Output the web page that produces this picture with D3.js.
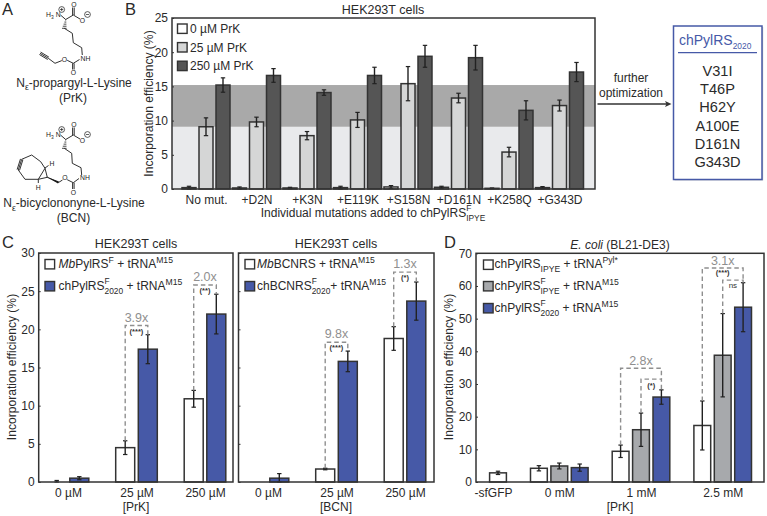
<!DOCTYPE html>
<html><head><meta charset="utf-8">
<script src="https://cdn.jsdelivr.net/npm/d3@7"></script>
<style>
html,body{margin:0;padding:0;background:#fff}
svg{display:block}
text{font-family:"Liberation Sans",Arial,sans-serif;fill:#2a2a2a;white-space:pre}
</style></head><body><svg id="c" width="767" height="516" viewBox="0 0 767 516"></svg>
<script>
// ---------- data ----------
const bCats = ["No mut.","+D2N","+K3N","+E119K","+S158N","+D161N","+K258Q","+G343D"];
const b0 = [0.2,0.15,0.15,0.2,0.3,0.25,0.1,0.2];
const b0Err = [0.2,0.15,0.1,0.2,0.2,0.15,0.05,0.15];
const b25 = [9.1,9.8,7.8,10.1,15.4,13.3,5.4,12.2];
const b25Err = [1.3,0.7,0.6,1.1,2.5,0.7,0.7,0.8];
const b250 = [15.2,16.6,14.1,16.6,19.4,19.2,11.5,17.1];
const b250Err = [1.05,1.0,0.4,1.2,1.6,1.8,1.4,1.4];
const bShade = [9.1,15.2];
const bYTicks = [0,5,10,15,20,25];

const cCats = ["0 µM","25 µM","250 µM"];
const cWhite = [0,4.5,10.9];
const cWhiteErr = [0.2,0.9,1.1];
const cBlue = [0.5,17.4,22];
const cBlueErr = [0.2,1.9,2.6];
const bcnWhite = [0,1.7,18.8];
const bcnWhiteErr = [0,0.1,1.55];
const bcnBlue = [0.5,15.8,23.7];
const bcnBlueErr = [0.6,1.35,2.5];
const cYTicks = [0,5,10,15,20,25,30];

const dCats = ["-sfGFP","0 mM","1 mM","2.5 mM"];
const dSf = 2.8, dSfErr = 0.5;
const dWhite = [null,4.2,9.4,17.3];
const dWhiteErr = [null,0.8,1.9,7.5];
const dGray = [null,4.9,16,38.8];
const dGrayErr = [null,0.9,5.1,12.75];
const dBlue = [null,4.4,26,53.5];
const dBlueErr = [null,1.1,2.2,7.5];
const dYTicks = [0,10,20,30,40,50,60,70];

const mutations = ["V31I","T46P","H62Y","A100E","D161N","G343D"];

// ---------- styles ----------
const INK="#333", BLUE="#4659a7", GRAYTXT="#8f8f8f", FS=12, TITLE=12.5;
const svg=d3.select("#c");

function rich(parent,x,y,parts,size=FS,anchor="start",fill=null){
  const g=parent.append("g");
  let cx=0;
  const put=(t,dy,s,it)=>{const e=g.append("text").attr("x",cx).attr("y",dy).attr("font-size",s).text(t);
    if(it)e.attr("font-style","italic"); if(fill)e.style("fill",fill); return e.node().getComputedTextLength();};
  parts.forEach(p=>{
    if(typeof p==="string"){cx+=put(p,0,size);}
    else if(p.i){cx+=put(p.i,0,size,true);}
    else if(p.sup&&p.sub){const a=put(p.sup,-size*.46,size*.7),b=put(p.sub,size*.36,size*.7);cx+=Math.max(a,b);}
    else if(p.sup){cx+=put(p.sup,-size*.42,size*.72);}
    else if(p.sub){cx+=put(p.sub,size*.3,size*(p.scale||.72));}
  });
  const ox=anchor==="middle"?x-cx/2:x;
  g.attr("transform",`translate(${ox},${y})`);
  return g;
}
function label(t,x,y,size=FS,anchor="middle",fill=null,weight=null){
  const e=svg.append("text").attr("x",x).attr("y",y).attr("font-size",size).attr("text-anchor",anchor).text(t);
  if(fill)e.style("fill",fill); if(weight)e.attr("font-weight",weight); return e;
}
function yLabel(x,cy){
  svg.append("text").attr("transform",`translate(${x},${cy}) rotate(-90)`).attr("text-anchor","middle")
    .attr("font-size",12.1).text("Incorporation efficiency (%)");
}
function panel(o){
  const y=d3.scaleLinear().domain(o.yDomain).range([o.bottom,o.top]);
  const x=d3.scaleBand().domain(o.cats).range(o.xRange);
  const inner=d3.scaleBand().domain(d3.range(o.series.length)).range([-o.step*o.series.length/2,o.step*o.series.length/2]);
  const g=svg.append("g");
  if(o.under)o.under(g,y);
  const center=c=>x(c)+x.bandwidth()/2;
  const barX=(c,i)=>center(c)+inner(i)+inner.bandwidth()/2;
  o.series.forEach((s,i)=>{
    const rows=o.cats.map((c,k)=>({c,v:s.values[k],e:s.errs[k]})).filter(d=>d.v!=null);
    g.selectAll(null).data(rows.filter(d=>d.v>0)).enter().append("rect")
      .attr("x",d=>barX(d.c,i)-o.w/2).attr("width",o.w)
      .attr("y",d=>y(d.v)).attr("height",d=>y(0)-y(d.v))
      .attr("fill",s.fill).attr("stroke",INK).attr("stroke-width",1.5);
  });
  if(o.extra)o.extra(g,x,y,barX,center);
  const eb=(px,v,e)=>{
    if(!e)return;
    const ln=(x1,y1,x2,y2,w)=>g.append("line").attr("x1",x1).attr("y1",y1).attr("x2",x2).attr("y2",y2).attr("stroke","#222").attr("stroke-width",w);
    ln(px,y(v+e),px,y(Math.max(0,v-e)),1.4);
    ln(px-2.2,y(v+e),px+2.2,y(v+e),1.2);
    ln(px-2.2,y(Math.max(0,v-e)),px+2.2,y(Math.max(0,v-e)),1.2);
  };
  o.series.forEach((s,i)=>o.cats.forEach((c,k)=>{if(s.values[k]!=null)eb(barX(c,i),s.values[k],s.errs[k]);}));
  if(o.extraErr)o.extraErr(eb,x,barX);
  // frame
  g.append("rect").attr("x",o.left).attr("y",o.top).attr("width",o.right-o.left).attr("height",o.bottom-o.top)
    .attr("fill","none").attr("stroke",INK).attr("stroke-width",1.5);
  // axes
  const ya=g.append("g").attr("transform",`translate(${o.left},0)`)
    .call(d3.axisLeft(y).tickValues(o.yTicks).tickSize(-2).tickPadding(4));
  ya.select(".domain").remove();
  ya.selectAll("line").attr("stroke",INK);
  ya.selectAll("text").attr("font-size",FS);
  if(o.noYLabels)ya.selectAll("text").remove();
  const xt=o.xTick?o.xTick(x):d3.scaleOrdinal(o.cats,o.cats.map(center));
  const xa=g.append("g").attr("transform",`translate(0,${o.bottom})`)
    .call(d3.axisBottom(xt).tickSize(0).tickPadding(6));
  xa.select(".domain").remove();
  xa.selectAll("text").attr("font-size",FS);
  return {x,y,barX,center};
}
function bracket(pts){
  svg.append("path").attr("d",d3.line()(pts)).attr("fill","none").attr("stroke",GRAYTXT)
    .attr("stroke-width",1.4).attr("stroke-dasharray","4.5 3");
}
function swatch(x,y,fill){
  svg.append("rect").attr("x",x).attr("y",y).attr("width",9.6).attr("height",9.4)
    .attr("fill",fill).attr("stroke",INK).attr("stroke-width",1.4);
}

// ---------- panel letters ----------
[["A",2,14.5],["B",125,14.5],["C",2,248],["D",444,248]].forEach(d=>label(d[0],d[1],d[2],16.5,"start"));

// ---------- panel B ----------
const pB=panel({left:172,right:595,top:18,bottom:189,yDomain:[0,25],cats:bCats,xRange:[180.75,584.75],
  step:17,w:14,yTicks:bYTicks,
  series:[{values:b0,errs:b0Err,fill:"#fff"},{values:b25,errs:b25Err,fill:"#d5d6d6"},{values:b250,errs:b250Err,fill:"#555"}],
  under:(g,y)=>{
    g.append("rect").attr("x",172).attr("width",423).attr("y",y(bShade[0])).attr("height",y(0)-y(bShade[0])).attr("fill","#e9eaec");
    g.append("rect").attr("x",172).attr("width",423).attr("y",y(bShade[1])).attr("height",y(bShade[0])-y(bShade[1])).attr("fill","#a9a9a9");
  }});
label("HEK293T cells",383,14,TITLE);
yLabel(152.5,103.5);
rich(svg,373,217,["Individual mutations added to chPylRS",{sup:"F",sub:"IPYE"}],FS,"middle");
[["0 µM PrK","#fff"],["25 µM PrK","#d5d6d6"],["250 µM PrK","#555"]].forEach((d,i)=>{
  swatch(177.5,24+i*18.6,d[1]); label(d[0],190,33+i*18.7,FS,"start");
});

// ---------- arrow and box ----------
label("further",631,82); label("optimization",631,97);
svg.append("line").attr("x1",597.5).attr("x2",668).attr("y1",104).attr("y2",104).attr("stroke",INK).attr("stroke-width",1.3);
svg.append("path").attr("d","M671.5,104L665,101L666.5,104L665,107Z").attr("fill",INK);
svg.append("rect").attr("x",674.5).attr("y",27).attr("width",88.7).attr("height",153.5).attr("fill","#c9c9c9");
svg.append("rect").attr("x",673.5).attr("y",26).attr("width",88.5).attr("height",153.5).attr("fill","#fff").attr("stroke",BLUE).attr("stroke-width",1.5);
rich(svg,679,45,["chPylRS",{sub:"2020",scale:.6}],14,"start",BLUE);
svg.append("line").attr("x1",678).attr("x2",757).attr("y1",52.7).attr("y2",52.7).attr("stroke",BLUE).attr("stroke-width",1.2);
svg.selectAll(null).data(mutations).enter().append("text").attr("x",717.5).attr("y",(d,i)=>76+i*18.2)
  .attr("text-anchor","middle").attr("font-size",14.6).text(d=>d);

// ---------- panel C ----------
const cOpt={top:253,bottom:482,yDomain:[0,30],cats:cCats,step:22.6,w:19,yTicks:cYTicks};
const pC=panel({...cOpt,left:38.7,right:233,xRange:[33.75,239.25],
  series:[{values:cWhite,errs:cWhiteErr,fill:"#fff"},{values:cBlue,errs:cBlueErr,fill:BLUE}]});
label("HEK293T cells",136,248,TITLE);
yLabel(16,367);
label("[PrK]",136,510.5);
swatch(45,259.5,"#fff"); swatch(45,281.5,BLUE);
rich(svg,58.5,268,[{i:"Mb"},"PylRS",{sup:"F"}," + tRNA",{sup:"M15"}]);
rich(svg,58.5,290,["chPylRS",{sup:"F",sub:"2020"}," + tRNA",{sup:"M15"}]);

const pC2=panel({...cOpt,left:238.5,right:434,xRange:[233.75,439.25],noYLabels:true,
  series:[{values:bcnWhite,errs:bcnWhiteErr,fill:"#fff"},{values:bcnBlue,errs:bcnBlueErr,fill:BLUE}]});
label("HEK293T cells",336,248,TITLE);
label("[BCN]",336,510.5);
swatch(245,259.5,"#fff"); swatch(245,281.5,BLUE);
rich(svg,257,268,[{i:"Mb"},"BCNRS + tRNA",{sup:"M15"}]);
rich(svg,257,290,["chBCNRS",{sup:"F",sub:"2020"},"+ tRNA",{sup:"M15"}]);

// fold-change annotations for C
function foldPair(p,cat,loTop,hiTop,level,txt,stars){
  const x1=p.barX(cat,0),x2=p.barX(cat,1),yl=p.y(level);
  bracket([[x1,p.y(loTop)],[x1,yl],[x2,yl],[x2,p.y(hiTop)]]);
  label(txt,(x1+x2)/2,yl-4,12.5,"middle",GRAYTXT);
  label(stars,(x1+x2)/2,yl+8,7.5,"middle","#333","bold");
}
foldPair(pC,"25 µM",cWhite[1]+cWhiteErr[1],cBlue[1]+cBlueErr[1],20.5,"3.9x","(***)");
foldPair(pC,"250 µM",cWhite[2]+cWhiteErr[2],cBlue[2]+cBlueErr[2],25.8,"2.0x","(**)");
foldPair(pC2,"25 µM",bcnWhite[1]+bcnWhiteErr[1],bcnBlue[1]+bcnBlueErr[1],18.3,"9.8x","(***)");
foldPair(pC2,"250 µM",bcnWhite[2]+bcnWhiteErr[2],bcnBlue[2]+bcnBlueErr[2],27.5,"1.3x","(*)");

// ---------- panel D ----------
const pD=panel({left:476,right:764,top:253.3,bottom:482,yDomain:[0,70],cats:dCats,xRange:[436.75,763.55],
  step:20.4,w:16.8,yTicks:dYTicks,
  series:[{values:dWhite,errs:dWhiteErr,fill:"#fff"},{values:dGray,errs:dGrayErr,fill:"#a7a9ac"},{values:dBlue,errs:dBlueErr,fill:BLUE}],
  extra:(g,x,y,barX)=>{
    g.append("rect").attr("x",barX(dCats[0],2)-8.4).attr("width",16.8).attr("y",y(dSf)).attr("height",y(0)-y(dSf))
      .attr("fill","#fff").attr("stroke",INK).attr("stroke-width",1.5);
  },
  extraErr:(eb,x,barX)=>eb(barX(dCats[0],2),dSf,dSfErr),
  xTick:x=>d3.scaleOrdinal(dCats,dCats.map((c,i)=>x(c)+x.bandwidth()/2-(i?0:-15.4)))
});
rich(svg,620,249,[{i:"E. coli"}," (BL21-DE3)"],TITLE-.5,"middle");
yLabel(452.7,367);
label("[PrK]",620,510.5);
swatch(483.5,260,"#fff"); swatch(483.5,281.5,"#a7a9ac"); swatch(483.5,303.5,BLUE);
rich(svg,494.5,268.3,["chPylRS",{sub:"IPYE"}," + tRNA",{sup:"Pyl*"}]);
rich(svg,494.5,290,["chPylRS",{sup:"F",sub:"IPYE"}," + tRNA",{sup:"M15"}]);
rich(svg,494.5,311.7,["chPylRS",{sup:"F",sub:"2020"}," + tRNA",{sup:"M15"}]);

function foldTriple(cat,k,outer,inner,txt,txtDy){
  const p=pD, x0=p.barX(cat,0),x1=p.barX(cat,1),x2=p.barX(cat,2);
  const yo=p.y(outer),yi=p.y(inner);
  bracket([[x0,p.y(dWhite[k]+dWhiteErr[k])],[x0,yo],[x2,yo],[x2,yi]]);
  bracket([[x1,p.y(dGray[k]+dGrayErr[k])],[x1,yi],[x2,yi],[x2,p.y(dBlue[k]+dBlueErr[k])]]);
  label(txt,x1,yo-txtDy,12.5,"middle",GRAYTXT);
  return {x1,x2,yo,yi};
}
const t1=foldTriple("1 mM",2,34.8,31.5,"2.8x",3.5);
label("(*)",(t1.x1+t1.x2)/2,t1.yi+9,7.5,"middle","#333","bold");
const t2=foldTriple("2.5 mM",3,65.5,61.8,"3.1x",3);
label("(***)",t2.x1,t2.yo+7,7.5,"middle","#333","bold");
label("ns",(t2.x1+t2.x2)/2,t2.yi+8,8,"middle","#333");

// ---------- panel A: structures ----------
function bonds(list,w=0.9){
  svg.append("path").attr("d",list.map(s=>d3.line()(s)).join("")).attr("fill","none").attr("stroke","#1a1a1a").attr("stroke-width",w);
}
function atom(t,x,y,s=6.8){label(t,x,y,s,"middle","#1a1a1a");}
function charge(x,y,neg){
  svg.append("circle").attr("cx",x).attr("cy",y).attr("r",2.9).attr("fill","#fff").attr("stroke","#1a1a1a").attr("stroke-width",.7);
  bonds([[[x-1.6,y],[x+1.6,y]]].concat(neg?[]:[[[x,y-1.6],[x,y+1.6]]]),.7);
}
function hash(x1,y1,x2,y2,n=5){
  const l=[];for(let i=0;i<n;i++){const t=i/(n-1),mx=x1+(x2-x1)*t,my=y1+(y2-y1)*t,h=.5+t*1.8;l.push([[mx-h,my],[mx+h,my]]);}
  bonds(l,.8);
}
function headGroup(dy){
  label("N",58.3,16.5+dy,6.8,"middle","#1a1a1a");
  rich(svg,46,16.5+dy,["H",{sub:"3"}],6.8,"start","#1a1a1a");
  charge(61.7,9.5+dy,false);
  bonds([[[60.5,15+dy],[65.7,19.5+dy],[73.3,15+dy],[80,19+dy]],
         [[72.6,15+dy],[72.6,7.5+dy]],[[74.2,15+dy],[74.2,7.5+dy]]]);
  atom("O",74,6.5+dy); atom("O",82.5,22.5+dy); charge(87.5,14.5+dy,true);
  hash(65.7,20+dy,64.3,28.3+dy);
}
headGroup(0);
bonds([[[64.3,28.3],[72.3,33.3],[73.3,42.7],[81.7,47.7],[82.3,55]],
       [[79.5,59.5],[73.3,63.3],[67.2,60.3]],[[72.6,63.3],[72.6,69.5]],[[74.1,63.3],[74.1,69.5]],
       [[61.8,60.6],[55,63.3],[48.3,58.3]],[[48.3,58.3],[40,53.3]],[[48.9,57.1],[40.6,52.1]],[[47.7,59.5],[39.4,54.5]]]);
atom("NH",85.5,61); atom("O",64.5,61.5); atom("O",73.4,75);
rich(svg,74,86.5,["N",{sub:"ε"},"-propargyl-L-Lysine"],FS,"middle");
label("(PrK)",73,101.7);

headGroup(120);
bonds([[[64.3,148.3],[71.7,153.3],[72.3,163.3],[81,167.7],[81.7,175]],
       [[79,178.5],[73.3,182.7],[67.2,179.7]],[[72.6,182.7],[72.6,189]],[[74.1,182.7],[74.1,189]],
       [[62.5,180],[58.5,182.5],[47.3,177.3]],
       [[45,168.3],[38.3,179.3],[47.3,177.3],[45,168.3]],
       [[45,168.3],[40.7,161.7],[31.7,155],[21.7,159.3]],
       [[21.7,159.3],[18.3,170]],[[20.5,158.9],[17.1,169.6]],[[22.9,159.7],[19.5,170.4]],
       [[18.3,170],[25,179.3],[38.3,179.3]],
       [[45,168],[48.5,165.5]],[[38.3,179.3],[38.3,183]]]);
svg.append("path").attr("d","M46,176.6L59,181.4L58,183.4Z").attr("fill","#1a1a1a");
atom("NH",85,179.5); atom("O",65,179.5); atom("O",73.4,194.5); atom("H",52,165.5); atom("H",38.3,189.5);
rich(svg,74,207,["N",{sub:"ε"},"-bicyclononyne-L-Lysine"],FS,"middle");
label("(BCN)",73.5,221.7);
</script></body></html>
